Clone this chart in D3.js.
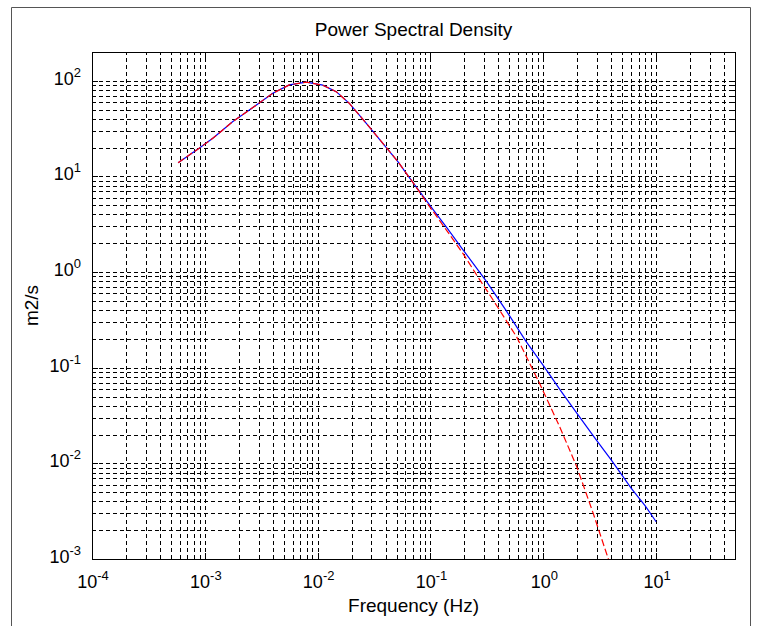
<!DOCTYPE html>
<html>
<head>
<meta charset="utf-8">
<script src="https://cdn.jsdelivr.net/npm/d3@7"></script>
<style>
  html, body { margin: 0; padding: 0; background: #fff; }
  text { font-family: "Liberation Sans", Arial, sans-serif; fill: #000; }
</style>
</head>
<body>
<div class="chart"></div>
<script>
// DATA
// ----------------------------
const freqBlue = [5.8e-4, 8.9e-4, 1.2e-3, 1.76e-3, 2.48e-3, 4.0e-3, 5.6e-3, 7.9e-3, 1.11e-2, 1.46e-2,
  1.91e-2, 2.7e-2, 3.78e-2, 5.14e-2, 7.0e-2, 0.1, 0.14, 0.195, 0.313, 0.472, 0.7, 1.02, 1.45, 2.04,
  2.9, 4.04, 6.0, 8.0, 10.0]
const psdBlue = [13.9, 19.7, 25.5, 37.3, 49.5, 74, 90.5, 97, 90, 77,
  58, 35.9, 22.2, 14.3, 8.6, 4.9, 2.9, 1.7, 0.8, 0.39, 0.19, 0.102, 0.056, 0.032,
  0.018, 0.0107, 0.0055, 0.0036, 0.00245]

const freqRed = [5.8e-4, 8.9e-4, 1.2e-3, 1.76e-3, 2.48e-3, 4.0e-3, 5.6e-3, 7.9e-3, 1.11e-2, 1.46e-2,
  1.91e-2, 2.7e-2, 3.78e-2, 5.14e-2, 7.0e-2, 0.1, 0.14, 0.195, 0.27, 0.359, 0.58, 0.93, 1.4, 1.98,
  2.77, 3.77, 4.0]
const psdRed = [13.9, 19.7, 25.5, 37.3, 49.5, 74, 90.5, 97, 90, 77,
  58, 35.9, 22.2, 14.3, 8.6, 4.7, 2.7, 1.55, 0.85, 0.51, 0.21, 0.068, 0.024, 0.0092,
  0.003, 0.001, 0.0008]

const xTickExps = [-4, -3, -2, -1, 0, 1]
const yTickExps = [-3, -2, -1, 0, 1, 2]
// ----------------------------

// SETUP
// ----------------------------
const fullWidth = 757
const fullHeight = 626
const margin = { top: 52, bottom: 67, left: 92, right: 22 }
const width = fullWidth - margin.left - margin.right
const height = fullHeight - margin.top - margin.bottom

const root = d3.select('.chart')
  .append('svg')
    .attr('width', fullWidth)
    .attr('height', fullHeight)

// outer figure frame
root.append('path')
  .attr('d', 'M11.5,626 V7.5 H750.5 V626')
  .attr('fill', 'none')
  .attr('stroke', '#555')
  .attr('stroke-width', 1)

const svg = root.append('g')
  .attr('transform', `translate(${margin.left}, ${margin.top})`)
// ----------------------------

// SCALES
// ----------------------------
const xScale = d3.scaleLog()
  .domain([1e-4, 50])
  .range([0, width])
const yScale = d3.scaleLog()
  .domain([1e-3, 200])
  .range([height, 0])

const xAll = xScale.ticks()
const yAll = yScale.ticks()
const isMajor = v => Math.abs(Math.log10(v) - Math.round(Math.log10(v))) < 1e-9
// ----------------------------

// GRID
// ----------------------------
const gridX = d3.axisBottom(xScale)
  .tickValues(xAll.filter(v => v > 1e-4 && v < 50))
  .tickSize(-height)
  .tickFormat('')
svg.append('g')
    .attr('class', 'grid')
    .attr('transform', `translate(0, ${height})`)
  .call(gridX)

const gridY = d3.axisLeft(yScale)
  .tickValues(yAll.filter(v => v > 1e-3 && v < 200))
  .tickSize(-width)
  .tickFormat('')
svg.append('g')
    .attr('class', 'grid')
  .call(gridY)

svg.selectAll('.grid .domain').remove()
svg.selectAll('.grid line')
  .attr('stroke', '#000')
  .attr('stroke-width', 1)
  .attr('stroke-dasharray', '4,3')
  .attr('shape-rendering', 'crispEdges')
// ----------------------------

// TICKS (inside, on all four sides)
// ----------------------------
const majLen = 6
const minLen = 3
const ticks = svg.append('g').attr('class', 'ticks')
xAll.forEach(v => {
  const px = Math.round(xScale(v)) + 0.5
  const len = isMajor(v) ? majLen : minLen
  ticks.append('line').attr('x1', px).attr('x2', px).attr('y1', height).attr('y2', height - len)
  ticks.append('line').attr('x1', px).attr('x2', px).attr('y1', 0).attr('y2', len)
})
yAll.forEach(v => {
  const py = Math.round(yScale(v)) + 0.5
  const len = isMajor(v) ? majLen : minLen
  ticks.append('line').attr('x1', 0).attr('x2', len).attr('y1', py).attr('y2', py)
  ticks.append('line').attr('x1', width).attr('x2', width - len).attr('y1', py).attr('y2', py)
})
ticks.selectAll('line').attr('stroke', '#000').attr('shape-rendering', 'crispEdges')
// ----------------------------

// CURVES
// ----------------------------
svg.append('clipPath').attr('id', 'plotclip')
  .append('rect').attr('width', width).attr('height', height)

const line = d3.line()
  .x(d => xScale(d[0]))
  .y(d => yScale(d[1]))

svg.append('path')
  .datum(d3.zip(freqBlue, psdBlue))
  .attr('clip-path', 'url(#plotclip)')
  .attr('d', line)
  .attr('fill', 'none')
  .attr('stroke', '#0000ff')
  .attr('stroke-width', 1.2)

svg.append('path')
  .datum(d3.zip(freqRed, psdRed))
  .attr('clip-path', 'url(#plotclip)')
  .attr('d', line)
  .attr('fill', 'none')
  .attr('stroke', '#ff0000')
  .attr('stroke-width', 1.2)
  .attr('stroke-dasharray', '7,3')
// ----------------------------

// BOX
// ----------------------------
svg.append('rect')
  .attr('x', 0.5).attr('y', 0.5)
  .attr('width', width).attr('height', height)
  .attr('fill', 'none')
  .attr('stroke', '#000')
  .attr('shape-rendering', 'crispEdges')
// ----------------------------

// TICK LABELS
// ----------------------------
function powerLabel (sel, exp) {
  sel.append('tspan').text('10')
  sel.append('tspan')
    .attr('dy', -8)
    .attr('font-size', 13)
    .text(exp)
}

xTickExps.forEach(e => {
  const t = svg.append('text')
    .attr('x', xScale(Math.pow(10, e)) + 1)
    .attr('y', height + 29)
    .attr('text-anchor', 'middle')
    .attr('font-size', 18)
  powerLabel(t, e)
})

yTickExps.forEach(e => {
  const t = svg.append('text')
    .attr('x', -11)
    .attr('y', yScale(Math.pow(10, e)) + 4)
    .attr('text-anchor', 'end')
    .attr('font-size', 18)
  powerLabel(t, e)
})
// ----------------------------

// TITLES
// ----------------------------
svg.append('text')
  .attr('x', width / 2)
  .attr('y', -16)
  .attr('text-anchor', 'middle')
  .attr('font-size', 19)
  .text('Power Spectral Density')

svg.append('text')
  .attr('x', width / 2)
  .attr('y', height + 53)
  .attr('text-anchor', 'middle')
  .attr('font-size', 19)
  .text('Frequency (Hz)')

svg.append('text')
  .attr('transform', `translate(${-54}, ${height / 2}) rotate(-90)`)
  .attr('text-anchor', 'middle')
  .attr('font-size', 19)
  .text('m2/s')
// ----------------------------
</script>
</body>
</html>
